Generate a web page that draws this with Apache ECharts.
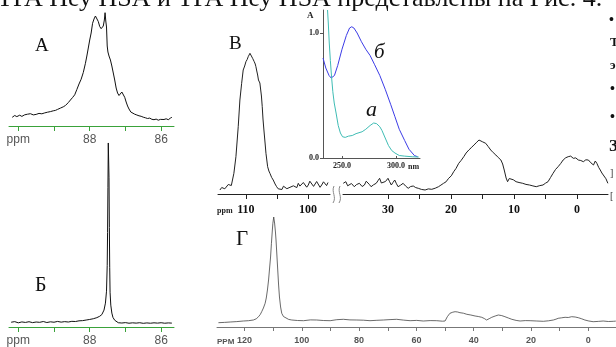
<!DOCTYPE html>
<html>
<head>
<meta charset="utf-8">
<script src="https://cdn.jsdelivr.net/npm/echarts@6/dist/echarts.min.js"></script>
<style>
  html, body { margin: 0; padding: 0; background: #fff; }
  #chart { width: 616px; height: 347px; }
</style>
</head>
<body>
<div id="chart"></div>
<script>
// spectra, [ppm, intensity]
const specA = [
  [90.17,8.7],[90.1,10.5],[90.04,9.4],[89.96,10.8],[89.9,9.6],[89.82,11.2],[89.74,11.8],[89.66,12.3],
  [89.58,11.1],[89.5,11.6],[89.42,12.6],[89.34,12.2],[89.26,13.1],[89.18,13.8],[89.1,14.4],[89.02,15.2],
  [88.96,15.6],[88.9,16.6],[88.82,17.9],[88.74,19.2],[88.68,20.5],[88.6,23.4],[88.54,26],[88.48,28.5],
  [88.42,31.2],[88.36,36.5],[88.3,42],[88.24,46.8],[88.18,53.5],[88.12,62.7],[88.08,70],[88.04,78],
  [88.0,86],[87.96,93],[87.92,102.7],[87.88,107],[87.84,110],[87.8,108.5],[87.76,104.5],[87.72,99.5],
  [87.68,97.3],[87.65,96],[87.62,100],[87.59,106],[87.57,113.3],[87.55,105],[87.53,99],[87.51,80],
  [87.49,74],[87.46,70],[87.42,66],[87.38,60],[87.34,53],[87.3,46],[87.26,38],[87.22,33],[87.18,30.5],
  [87.14,31],[87.1,34],[87.06,32],[87.02,28.7],[86.98,24],[86.94,20],[86.9,17],[86.85,14],[86.8,12.5],
  [86.74,11.8],[86.68,11],[86.62,10.2],[86.56,9.7],[86.5,8.8],[86.44,8.2],[86.38,7.5],[86.32,7.9],
  [86.26,6.7],[86.2,6.3],[86.14,6.9],[86.08,5.8],[86.02,6.6],[85.98,7.7],[85.92,6.5],[85.86,7.2],
  [85.8,6.3],[85.74,7.9],[85.7,8.7]
];
const specB6 = [
  [90.2,4.8],[90.1,5.4],[90.0,4.2],[89.9,5.1],[89.8,4.6],[89.7,5.3],[89.6,4.4],[89.5,5.0],[89.4,4.7],
  [89.3,5.5],[89.2,4.5],[89.1,5.2],[89.0,4.8],[88.9,5.6],[88.8,4.9],[88.7,5.4],[88.6,5.0],[88.5,5.7],
  [88.4,5.5],[88.3,6.2],[88.2,6.4],[88.1,7.0],[88.0,7.6],[87.9,8.3],[87.8,9.4],[87.72,10.8],[87.66,12.5],
  [87.6,17],[87.56,24],[87.53,36],[87.51,62],[87.5,95],[87.49,140],[87.48,185],[87.47,186],[87.46,150],
  [87.45,100],[87.44,60],[87.43,35],[87.41,22],[87.38,14],[87.35,9.7],[87.3,6.8],[87.25,5.2],[87.2,4.3],
  [87.1,4.0],[87.0,4.4],[86.9,3.8],[86.8,4.2],[86.7,3.9],[86.6,4.3],[86.5,3.7],[86.4,4.1],[86.3,3.8],
  [86.2,4.2],[86.1,3.9],[86.0,4.3],[85.9,3.8],[85.8,4.1],[85.7,3.9]
];
const specBLeft = [
  [114.19,4],[113.9,6.5],[113.66,7.3],[113.4,5.2],[113.11,5.7],[112.85,9.5],[112.58,11.3],[112.35,8.5],
  [112.15,9],[111.94,20.7],[111.61,37.3],[111.24,67.3],[110.97,94],[110.69,110.7],[110.44,124],[110.2,128],
  [110,132.3],[109.8,134.5],[109.63,137.3],[109.5,139],[109.35,140.7],[109.2,141.5],[109.08,142.3],
  [108.92,135.7],[108.8,137],[108.66,132.3],[108.5,130],[108.39,127.3],[108.25,123],[108.11,119],
  [107.98,114],[107.85,112.3],[107.75,111],[107.63,110.7],[107.5,98],[107.37,87.3],[107.25,75],[107.1,64],
  [106.9,50],[106.77,40.7],[106.5,27.3],[106.3,23],[106.13,20.7],[105.85,16.5],[105.6,14],[105.3,10],
  [105.05,7.3],[104.8,5.2],[104.52,5.7],[104.2,4.5],[103.95,7.8],[103.71,8],[103.4,5.3],[103.1,7.2],
  [102.9,6.7],[102.6,4.8],[102.35,8.2],[102.1,9],[101.8,6.4],[101.56,10.7],[101.3,7.9],[101.02,7.3],
  [100.75,11.5],[100.48,12.3],[100.2,6.8],[99.95,9],[99.7,12.8],[99.4,11.3],[99.1,7.6],[98.87,7.3],
  [98.6,12.5],[98.34,12.3],[98.05,6.7],[97.79,9],[97.5,12.2],[97.26,10.7],[97.0,8.4],[96.77,11.5]
];
const specBRight = [
  [37.1,10.7],[36.69,12.3],[36.4,8.2],[36.15,9],[35.8,10.5],[35.35,7.3],[35.0,9.4],[34.54,10.7],[34.1,7.5],
  [33.74,9],[33.45,12.8],[33.21,14],[32.95,9.5],[32.68,7.3],[32.3,9.2],[31.87,10.7],[31.6,13.2],[31.33,15.7],
  [31.05,11],[30.8,9],[30.4,12.5],[30.0,15.7],[29.75,12.4],[29.47,9],[29.2,11.6],[28.93,14],[28.65,10.2],
  [28.4,7.3],[28.0,8.8],[27.6,10.7],[27.2,7.9],[26.79,5.7],[26.4,7.5],[25.99,8],[25.6,6.4],[25.19,5.7],
  [24.7,4.6],[24.11,4],[23.6,5.1],[23.05,4.7],[22.5,5.8],[21.98,7.3],[21.6,8.9],[21.18,10.7],[20.8,12.1],
  [20.37,15.7],[19.95,18.2],[19.57,22.3],[19.2,25.6],[18.77,30.7],[18.4,33.5],[17.97,37.3],[17.6,41],
  [17.17,44],[16.8,46.2],[16.36,49],[16.0,51.2],[15.56,54],[15.3,52.4],[15.03,52.3],[14.75,51.8],
  [14.49,50.7],[14.1,47.5],[13.69,44],[13.3,41.4],[12.88,39],[12.5,36.5],[12.08,34],[11.8,30],[11.55,24],
  [11.25,16],[11.02,12.3],[10.75,15.5],[10.48,17.3],[10.1,14.2],[9.67,12.3],[9.2,11.5],[8.62,10.7],
  [8.1,9.6],[7.54,9],[7.0,8.1],[6.47,7.3],[5.9,8.4],[5.4,9],[5.0,10.8],[4.6,12.3],[4.2,16.5],[3.8,20.7],
  [3.4,24.6],[3.0,27.3],[2.6,30.4],[2.2,34],[1.8,36.2],[1.4,37.3],[1.0,37.9],[0.59,35.7],[0.2,36.1],
  [-0.21,34],[-0.6,33.5],[-1.01,32.3],[-1.4,34.2],[-1.81,34],[-2.2,31.2],[-2.62,29],[-2.9,33],
  [-3.15,30.7],[-3.45,26.5],[-3.69,24],[-3.95,21],[-4.22,19],[-4.6,15.2],[-4.9,10.7]
];
const specG = [
  [129.1,4.3],[127,4.6],[125,5],[122.7,5.4],[120.4,6],[118.6,6.3],[116.9,7],[115.9,8.2],[115.1,10.3],
  [114.5,12.5],[114,15.3],[113.4,19],[112.8,23.7],[112.4,29],[112,37],[111.6,47],[111.3,57],[110.9,70],
  [110.6,83.7],[110.3,96],[110.1,103.7],[109.8,110],[109.5,104],[109.2,95],[109,87],[108.7,72],[108.4,57],
  [108.1,42],[107.8,30],[107.4,20],[107,13.7],[106.4,10.5],[105.8,8.7],[104.6,7.6],[103.5,7],[101.5,6.5],
  [99.4,6.3],[97,7.1],[94.8,7],[92.5,6.5],[90.1,6.3],[87.8,7.3],[85.5,7.7],[83.2,7.1],[80.8,7],[78.5,6.8],
  [76.2,6.3],[73.8,6.7],[71.5,7],[69.2,7.4],[66.9,7.7],[64.5,6.9],[62.2,6.3],[59.9,6.6],[57.6,6],[55.2,6.4],
  [52.9,6.3],[50.9,5.8],[50,6],[49.2,10.3],[48.3,13.7],[47.3,14.8],[46.5,15.3],[45.6,15],[44.8,14.3],
  [43.6,13.8],[42.4,12.7],[41,12],[39.5,11],[38.4,10.5],[37.2,9.7],[36.3,8.5],[35.5,7],[34.6,8.3],
  [33.7,9.7],[32.5,11],[31.4,12],[30.2,11.4],[29.1,10.3],[27.9,9],[26.7,7.7],[25.2,6.6],[23.8,6],[22,6.4],
  [20.3,6.3],[18,6],[15.7,5.7],[13.9,6.2],[12.2,7],[11.3,7.8],[10.5,8.7],[9.3,9.2],[8.1,9.7],[7,9.5],
  [5.8,10.3],[4.6,10],[3.5,9.3],[2.3,8.2],[1.2,7],[-0.2,6],[-1.7,5.3],[-3.5,5.6],[-5.2,6],[-7,5.5],
  [-8.7,5.7],[-9.6,5.9]
];
// inset UV spectra, [nm, A]
const uvB = [
  [232.4,0.8],[235,0.72],[238,0.66],[240,0.64],[243,0.66],[246,0.74],[250,0.87],[254,0.98],[257,1.04],
  [259,1.05],[261,1.04],[264,1.0],[268,0.93],[272,0.87],[276,0.82],[280,0.75],[285,0.66],[290,0.55],
  [295,0.43],[299,0.33],[303,0.23],[308,0.14],[312,0.07],[317,0.02],[320,0.01]
];
const uvA = [
  [236.6,1.184],[237.3,1.08],[238.2,0.92],[239.2,0.78],[240.4,0.64],[241.5,0.53],[242.8,0.44],[244.5,0.36],
  [246.5,0.26],[248.5,0.2],[250.5,0.17],[253,0.165],[256,0.175],[259.5,0.18],[263,0.195],[268.6,0.21],
  [272,0.23],[276,0.26],[279.3,0.28],[282,0.275],[285,0.25],[287,0.22],[290,0.16],[293,0.1],[296,0.06],
  [299,0.04],[303,0.02],[308,0.015],[315,0.01],[321,0.008]
];
// tick positions and labels
const ticksAB = [90, 89, 88, 87, 86];
const labelsAB = { 90: 'ppm', 88: '88', 86: '86' };
const ticksBLeft = [110, 105, 100];
const labelsBLeft = [110, 100];
const ticksBRight = [30, 25, 20, 15, 10, 5, 0, -5];
const labelsBRight = [30, 20, 10, 0];
const ticksG = [120, 110, 100, 90, 80, 70, 60, 50, 40, 30, 20, 10, 0];
const labelsG = [120, 100, 80, 60, 40, 20, 0];
const ticksUV = [250, 300];
const ticksA = [0, 1];

const serif = '"Liberation Serif", "DejaVu Serif", serif';
const sans = '"Liberation Sans", Arial, sans-serif';
const green = '#3aa23a';

const chart = echarts.init(document.getElementById('chart'));

function ppmAxis(grid, min, max, ticks, labels, opts) {
  return {
    type: 'value', gridIndex: grid, inverse: true, min: min, max: max,
    splitLine: { show: false },
    axisLine: { show: true, lineStyle: { color: opts.color, width: 1 } },
    axisTick: { show: true, inside: false, length: opts.tickLen, customValues: ticks,
      lineStyle: { color: opts.color } },
    axisLabel: { show: true, customValues: labels, margin: opts.margin,
      color: opts.labelColor, fontFamily: opts.font, fontSize: opts.size, fontWeight: opts.weight,
      formatter: opts.formatter || (v => String(v)) }
  };
}
function hiddenY(grid, max) {
  return { type: 'value', gridIndex: grid, min: 0, max: max, show: false };
}
function line(xi, data, color, width) {
  return { type: 'line', xAxisIndex: xi, yAxisIndex: xi, data: data, showSymbol: false,
    symbol: 'none', silent: true, lineStyle: { color: color, width: width || 1 } };
}

const abOpts = { color: green, tickLen: 5, margin: 8, labelColor: '#555', font: sans, size: 12,
  weight: 'normal', formatter: v => labelsAB[v] || '' };
const bOpts = { color: '#222', tickLen: 5, margin: 10, labelColor: '#111', font: serif, size: 12,
  weight: 'bold' };
const gOpts = { color: '#777', tickLen: 4, margin: 9, labelColor: '#555', font: sans, size: 9,
  weight: 'bold' };

const option = {
  animation: false,
  backgroundColor: '#fff',
  grid: [
    { left: 9, top: 10, width: 165, height: 116 },
    { left: 9, top: 140, width: 165, height: 188 },
    { left: 218, top: 40, width: 112, height: 154 },
    { left: 343, top: 40, width: 265, height: 154 },
    { left: 323, top: 10, width: 97, height: 148 },
    { left: 217, top: 215, width: 399, height: 112 }
  ],
  xAxis: [
    ppmAxis(0, 85.64, 90.26, ticksAB, ticksAB.filter(v => labelsAB[v]), abOpts),
    ppmAxis(1, 85.64, 90.26, ticksAB, ticksAB.filter(v => labelsAB[v]), abOpts),
    ppmAxis(2, 96.45, 114.5, ticksBLeft, labelsBLeft, bOpts),
    ppmAxis(3, -4.92, 37.14, ticksBRight, labelsBRight, bOpts),
    {
      type: 'value', gridIndex: 4, min: 232.4, max: 322.2, splitLine: { show: false },
      axisLine: { lineStyle: { color: '#555' } },
      axisTick: { customValues: ticksUV, length: 2, inside: true, lineStyle: { color: '#555' } },
      axisLabel: { customValues: ticksUV, margin: 4, color: '#222', fontFamily: serif, fontSize: 8,
        fontWeight: 'bold', formatter: v => v.toFixed(1) }
    },
    ppmAxis(5, -9.67, 129.6, ticksG, labelsG, gOpts)
  ],
  yAxis: [
    hiddenY(0, 116), hiddenY(1, 188), hiddenY(2, 154), hiddenY(3, 154),
    {
      type: 'value', gridIndex: 4, min: 0, max: 1.184, splitLine: { show: false },
      axisLine: { show: true, lineStyle: { color: '#555' } },
      axisTick: { show: true, customValues: ticksA, length: 3, lineStyle: { color: '#555' } },
      axisLabel: { customValues: ticksA, margin: 4, color: '#222', fontFamily: serif, fontSize: 8,
        fontWeight: 'bold', formatter: v => v.toFixed(1) }
    },
    hiddenY(5, 112)
  ],
  series: [
    line(0, specA, '#111', 1),
    line(1, specB6, '#111', 1),
    line(2, specBLeft, '#222', 1),
    line(3, specBRight, '#222', 1),
    line(4, uvB, '#3c3ce6', 1),
    line(4, uvA, '#3fbcb4', 1),
    line(5, specG, '#444', 0.8)
  ],
  graphic: [
    { type: 'text', x: -3, y: 12, silent: true, style: { text: 'ТРА Неу HSA и ТРА Неу HSA представлены на Рис. 4.',
      font: '26px ' + serif, fill: '#111', verticalAlign: 'bottom' } },
    { type: 'text', x: 35, y: 46, style: { text: 'А', font: '19px ' + serif, fill: '#111', verticalAlign: 'middle' } },
    { type: 'text', x: 35, y: 286, style: { text: 'Б', font: '20px ' + serif, fill: '#111', verticalAlign: 'middle' } },
    { type: 'text', x: 229, y: 44, style: { text: 'В', font: '19px ' + serif, fill: '#111', verticalAlign: 'middle' } },
    { type: 'text', x: 236, y: 239, style: { text: 'Г', font: '21px ' + serif, fill: '#111', verticalAlign: 'middle' } },
    { type: 'text', x: 374, y: 52, style: { text: 'б', font: 'italic 21px ' + serif, fill: '#111', verticalAlign: 'middle' } },
    { type: 'text', x: 366, y: 110, style: { text: 'а', font: 'italic 22px ' + serif, fill: '#111', verticalAlign: 'middle' } },
    { type: 'text', x: 307, y: 16, style: { text: 'A', font: 'bold 9px ' + serif, fill: '#222', verticalAlign: 'middle' } },
    { type: 'text', x: 408, y: 167, style: { text: 'nm', font: 'bold 8px ' + serif, fill: '#222', verticalAlign: 'middle' } },
    { type: 'text', x: 217, y: 211, style: { text: 'ppm', font: 'bold 8px ' + serif, fill: '#222', verticalAlign: 'middle' } },
    { type: 'text', x: 217, y: 342, style: { text: 'PPM', font: 'bold 8px ' + sans, fill: '#555', verticalAlign: 'middle' } },
    // axis break
    { type: 'bezierCurve', shape: { x1: 334, y1: 186, x2: 333, y2: 203, cpx1: 331, cpy1: 192, cpx2: 337, cpy2: 197 },
      style: { stroke: '#888', lineWidth: 1, fill: null } },
    { type: 'bezierCurve', shape: { x1: 340, y1: 186, x2: 339, y2: 203, cpx1: 337, cpy1: 192, cpx2: 343, cpy2: 197 },
      style: { stroke: '#888', lineWidth: 1, fill: null } },
    // glyphs of the neighbouring column, cut by the edge
    { type: 'text', x: 609, y: 20, style: { text: '•', font: 'bold 14px ' + serif, fill: '#111', verticalAlign: 'middle' } },
    { type: 'text', x: 610, y: 43, style: { text: 'Т', font: 'bold 13px ' + serif, fill: '#111', verticalAlign: 'middle' } },
    { type: 'text', x: 610, y: 66, style: { text: 'э', font: 'bold 13px ' + serif, fill: '#111', verticalAlign: 'middle' } },
    { type: 'text', x: 610, y: 89, style: { text: '•', font: 'bold 14px ' + serif, fill: '#111', verticalAlign: 'middle' } },
    { type: 'text', x: 610, y: 117, style: { text: '•', font: 'bold 14px ' + serif, fill: '#111', verticalAlign: 'middle' } },
    { type: 'text', x: 609, y: 147, style: { text: 'З', font: 'bold 17px ' + serif, fill: '#111', verticalAlign: 'middle' } },
    { type: 'text', x: 610, y: 173, style: { text: ']', font: '10px ' + serif, fill: '#333', verticalAlign: 'middle' } },
    { type: 'text', x: 610, y: 196, style: { text: '[', font: '10px ' + serif, fill: '#333', verticalAlign: 'middle' } }
  ]
};

chart.setOption(option);
</script>
</body>
</html>
